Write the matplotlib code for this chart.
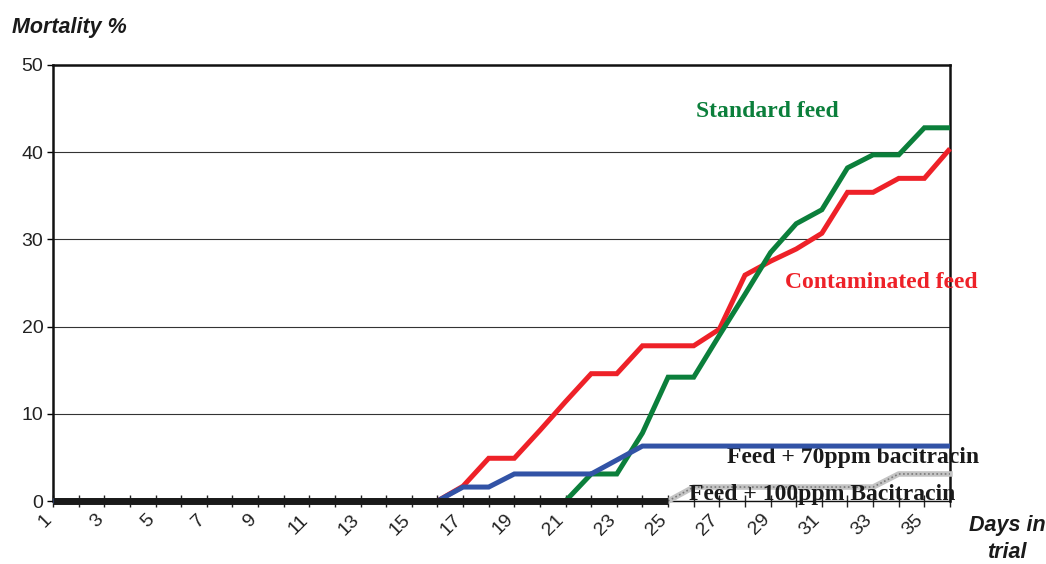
import matplotlib

matplotlib.use("Agg")

import matplotlib.pyplot as plt
import matplotlib.transforms as mtransforms
import numpy as np

days = np.arange(1, 37)
standard_feed = [0] * 21 + [3.1, 3.1, 7.8, 14.2, 14.2, 19.0, 23.7, 28.5, 31.8, 33.4,
                            38.2, 39.7, 39.7, 42.8, 42.8]
contaminated_feed = [0] * 16 + [1.7, 4.9, 4.9, 8.1, 11.4, 14.6, 14.6, 17.8, 17.8, 17.8,
                                19.7, 25.9, 27.5, 28.9, 30.7, 35.4, 35.4, 37.0, 37.0, 40.4]
bacitracin_70 = [0] * 16 + [1.6, 1.6, 3.1, 3.1, 3.1, 3.1, 4.7, 6.3, 6.3, 6.3,
                            6.3, 6.3, 6.3, 6.3, 6.3, 6.3, 6.3, 6.3, 6.3, 6.3]
bacitracin_100 = [0] * 25 + [1.6, 1.6, 1.6, 1.6, 1.6, 1.6, 1.6, 1.6, 3.1, 3.1, 3.1]
label_days = list(range(1, 36, 2))

GREEN = "#0b7f3b"
RED = "#ee2128"
BLUE = "#3253a6"

fig = plt.figure(figsize=(10.46, 5.64), dpi=100)
ax = fig.add_axes([53 / 1046, 1 - 501 / 564, 897 / 1046, 436 / 564])

line_kw = dict(lw=3.6, clip_on=False, solid_joinstyle="miter", solid_capstyle="butt")
ax.plot(days, contaminated_feed, color=RED, zorder=3, **line_kw)
ax.plot(days, standard_feed, color=GREEN, zorder=4, **line_kw)
ax.plot(days, bacitracin_70, color=BLUE, zorder=5, **line_kw)
# 100ppm series: black along zero, speckled grey once it rises
ax.plot(days[24:], bacitracin_100[24:], color="#c4c4c4", lw=4, clip_on=False, zorder=5)
ax.plot(days[24:], bacitracin_100[24:], color="#7a7a7a", lw=1.2, ls=(0, (1, 1.5)),
        clip_on=False, zorder=5)
ax.plot(days[:25], bacitracin_100[:25], color="#1a1a1a", lw=5, clip_on=False, zorder=6,
        solid_capstyle="butt")

ax.set_xlim(1, 36)
ax.set_ylim(0, 50)
ax.set_yticks(range(0, 51, 10))
ax.set_xticks(days)
ax.set_xticklabels([])

# rotated day labels, nudged left/down like the original
shift = mtransforms.ScaledTranslation(-10 / 100, -10 / 100, fig.dpi_scale_trans)
for d in label_days:
    ax.text(d, 0, str(d), transform=ax.get_xaxis_transform() + shift, rotation=45,
            rotation_mode="anchor", ha="right", va="top", fontsize=14,
            family="Liberation Sans", color="#222222")

ax.tick_params(axis="x", direction="inout", length=9, width=1, color="#222222", zorder=8)
ax.tick_params(axis="y", direction="out", length=4, width=1, pad=3, labelsize=14)
for lbl in ax.get_yticklabels():
    lbl.set_fontfamily("Liberation Sans")
    lbl.set_color("#222222")

ax.grid(axis="y", color="#333333", lw=0.8)
for s in ax.spines.values():
    s.set_linewidth(1.8)
    s.set_color("#111111")
ax.spines["bottom"].set_linewidth(1.0)

fig.text(12 / 1046, 1 - 27 / 564, "Mortality %", fontsize=15.5, fontweight="bold",
         fontstyle="italic", family="Liberation Sans", va="center", ha="left",
         color="#1a1a1a")
fig.text(1007 / 1046, 1 - 539 / 564, "Days in\ntrial", fontsize=15.5, fontweight="bold",
         fontstyle="italic", family="Liberation Sans", va="center", ha="center",
         color="#1a1a1a", linespacing=1.4)

serif = dict(family="Liberation Serif", fontweight="bold", fontsize=17)
ax.text(26.1, 44.7, "Standard feed", color=GREEN, ha="left", va="center", **serif)
ax.text(29.55, 25.1, "Contaminated feed", color=RED, ha="left", va="center", **serif)
ax.text(27.3, 5.0, "Feed + 70ppm bacitracin", color="#1a1a1a", ha="left", va="center",
        **serif)
ax.text(25.8, 0.75, "Feed + 100ppm Bacitracin", color="#1a1a1a", ha="left", va="center",
        zorder=7, **serif)

fig.savefig("out.png", dpi=100)
